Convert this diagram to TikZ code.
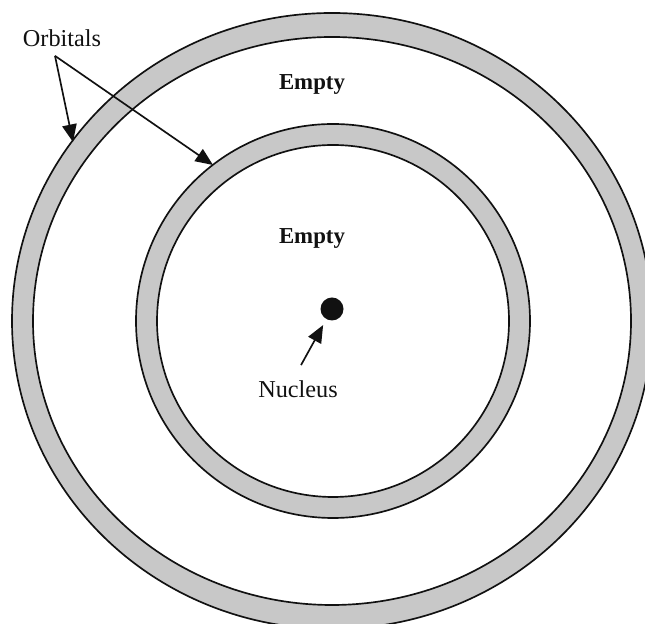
\documentclass[tikz,border=0pt]{standalone}
\usepackage{fontspec}
\setmainfont{Liberation Serif}
\usetikzlibrary{arrows.meta}
\definecolor{ATRing}{HTML}{C8C8C8}
\definecolor{ATInk}{HTML}{111111}
\tikzset{
  ring/.style={fill=ATRing,draw=ATInk,line width=0.95pt,even odd rule},
  pointer/.style={-{Triangle[length=3.5mm,width=2.9mm]},ATInk,line width=0.95pt},
  tag/.style={text=ATInk,font=\fontsize{13.8}{16}\selectfont,inner sep=0pt},
  tagbold/.style={tag,font=\fontsize{13}{16}\selectfont\bfseries},
}
\begin{document}
\begin{tikzpicture}[x=0.02cm,y=0.02cm]
    \clip (0,0) rectangle (645,624);
    \fill[white] (0,0) rectangle (645,624);
    % orbitals
    \path[ring] (332,303) ellipse [x radius=320,y radius=308]
                (332,303) ellipse [x radius=299,y radius=284];
    \path[ring] (333,303) circle [radius=197] (333,303) circle [radius=176];
    \node[circle,fill=ATInk,inner sep=0pt,minimum size=0.46cm] (nucleus) at (332,315) {};

    \node[tag] (orbitals) at (62,586) {Orbitals};
    \node[tagbold] (emptyouter) at (312,539) {Empty};
    \node[tagbold] (emptyinner) at (312,386) {Empty};
    \node[tag] (nuclabel) at (298,235) {Nucleus};

    \coordinate (fork) at ([shift={(-7,-9)}]orbitals.south);
    \coordinate (outertip) at (73,482);
    \coordinate (innertip) at (213,459);
    \draw[pointer] (fork) -- (outertip);
    \draw[pointer] (fork) -- (innertip);

    \coordinate (nucfoot) at ([shift={(3,15)}]nuclabel.north);
    \draw[pointer,shorten >=0.13cm] (nucfoot) -- (nucleus);
  \end{tikzpicture}
\end{document}
